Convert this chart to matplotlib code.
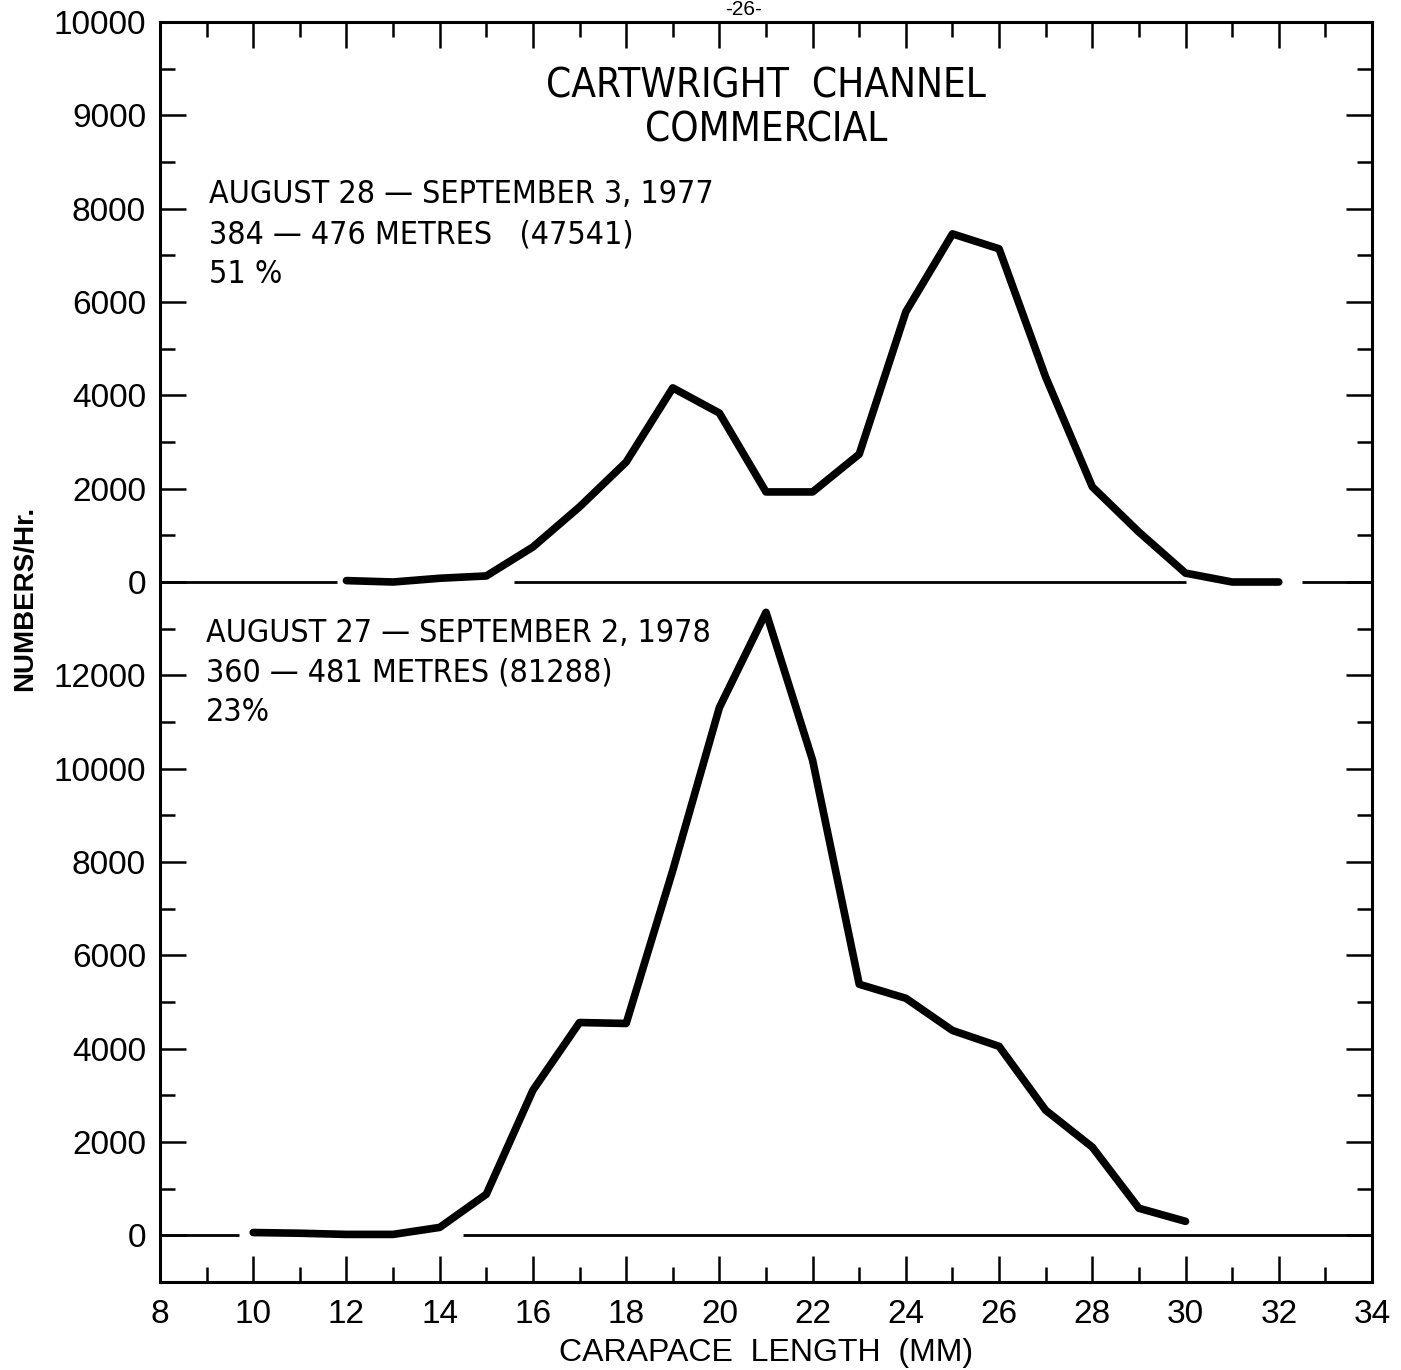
import matplotlib
matplotlib.use("Agg")
import matplotlib.pyplot as plt
import numpy as np

# Carapace length classes (mm) and catch rates (numbers per hour)
length_1977 = [12, 13, 14, 15, 16, 17, 18, 19, 20, 21, 22, 23, 24, 25, 26, 27, 28, 29, 30, 31, 32]
rate_1977 = [30, 0, 80, 130, 750, 1610, 2570, 4160, 3620, 1930, 1930, 2740, 5790, 7460,
             7140, 4390, 2040, 1070, 190, 0, 0]

length_1978 = [10, 11, 12, 13, 14, 15, 16, 17, 18, 19, 20, 21, 22, 23, 24, 25, 26, 27, 28, 29, 30]
rate_1978 = [60, 45, 20, 20, 170, 880, 3110, 4560, 4540, 7820, 11310, 13350, 10180, 5380,
             5080, 4390, 4050, 2680, 1890, 580, 300]

x_ticks = [8, 10, 12, 14, 16, 18, 20, 22, 24, 26, 28, 30, 32, 34]
lower_y_ticks = [0, 2000, 4000, 6000, 8000, 10000, 12000]
lower_y_labels = ["0", "2000", "4000", "6000", "8000", "10000", "12000"]
upper_y_ticks = [0, 2000, 4000, 6000, 8000, 10000, 12000]
upper_y_labels = ["0", "2000", "4000", "6000", "8000", "9000", "10000"]

title_lines = ["CARTWRIGHT  CHANNEL", "COMMERCIAL"]
upper_note = ["AUGUST 28 — SEPTEMBER 3, 1977", "384 — 476 METRES   (47541)", "51 %"]
lower_note = ["AUGUST 27 — SEPTEMBER 2, 1978", "360 — 481 METRES (81288)", "23%"]

# Both panels share one frame; the upper panel sits on a raised zero line
UPPER_ZERO = 14000

W, H = 1401, 1370
fig = plt.figure(figsize=(W / 100, H / 100), dpi=100)
ax = fig.add_axes([160 / W, 1 - 1282 / H, 1212 / W, 1260 / H])
ax.set_xlim(8, 34)
ax.set_ylim(-1000, 26000)

REG = ["Liberation Sans", "DejaVu Sans"]
COND = dict(family=["DejaVu Sans"], fontstretch="condensed")

# zero lines, broken where the curves run along them
ax.hlines([UPPER_ZERO] * 3, [8, 15.6, 32.5], [11.8, 30.0, 34], color="black", lw=2.0, zorder=2)
ax.hlines([0, 0], [8, 14.5], [9.7, 34], color="black", lw=2.0, zorder=2)

ax.plot(length_1977, np.array(rate_1977) + UPPER_ZERO, color="black", lw=5.5,
        solid_capstyle="round", solid_joinstyle="round", zorder=3)
ax.plot(length_1978, rate_1978, color="black", lw=5.5,
        solid_capstyle="round", solid_joinstyle="round", zorder=3)

for s in ax.spines.values():
    s.set_linewidth(2.2)

ax.set_xticks(x_ticks)
ax.set_xticklabels([str(v) for v in x_ticks], fontsize=24, family=REG)
ax.set_xticks(np.arange(9, 34, 2), minor=True)

yt = lower_y_ticks + [UPPER_ZERO + v for v in upper_y_ticks]
yl = lower_y_labels + upper_y_labels
ax.set_yticks(yt)
ax.set_yticklabels(yl, fontsize=24, family=REG)
ax.set_yticks([v for v in range(-1000, 26000, 1000) if v not in yt], minor=True)

ax.tick_params(which="both", direction="in", top=True, right=True, width=1.8, colors="black")
ax.tick_params(which="major", length=19)
ax.tick_params(which="minor", length=11)
ax.tick_params(axis="x", which="major", pad=12)
ax.tick_params(axis="y", which="major", pad=10)


def fx(px):
    return px / W


def fy(py):
    return 1 - py / H


for line, base in zip(title_lines, [97, 141]):
    fig.text(fx(766), fy(base), line, fontsize=29, ha="center", va="baseline", **COND)

for line, base in zip(upper_note, [203, 244, 283]):
    fig.text(fx(209), fy(base), line, fontsize=23, ha="left", va="baseline", **COND)
for line, base in zip(lower_note, [642, 682, 721]):
    fig.text(fx(206), fy(base), line, fontsize=23, ha="left", va="baseline", **COND)

fig.text(fx(25), fy(598), "NUMBERS/Hr.", rotation=90, fontsize=20, fontweight="bold",
         family=REG, ha="center", va="center")
fig.text(fx(766), fy(1361), "CARAPACE  LENGTH  (MM)", fontsize=23, family=REG,
         ha="center", va="baseline")
fig.text(fx(744), fy(15), "-26-", fontsize=15, family=REG, ha="center", va="baseline")

fig.savefig("out.png", dpi=100)
